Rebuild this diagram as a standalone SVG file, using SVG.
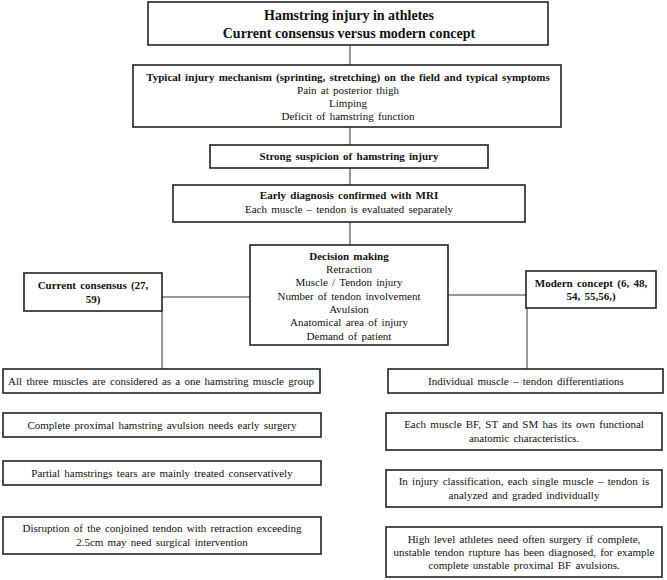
<svg xmlns="http://www.w3.org/2000/svg" width="667" height="580" viewBox="0 0 667 580">
<style>
.box{fill:#fff;stroke:#222;stroke-width:1.6}
.t{font-family:"Liberation Serif","Times New Roman",serif;font-size:11px;fill:#111;text-anchor:middle;word-spacing:1.5px}
.b{font-weight:bold}
.ttl{font-family:"Liberation Serif","Times New Roman",serif;font-size:14px;font-weight:bold;fill:#111;text-anchor:middle}
.ln{stroke:#333;stroke-width:1;fill:none}
</style>
<rect width="667" height="580" fill="#fff"/>
<g id="connectors">
<line class="ln" x1="350" y1="45" x2="350" y2="65"/>
<line class="ln" x1="350" y1="127" x2="350" y2="145"/>
<line class="ln" x1="350" y1="168" x2="350" y2="185"/>
<line class="ln" x1="350" y1="222" x2="350" y2="245"/>
<line class="ln" x1="162" y1="297" x2="250" y2="297"/>
<line class="ln" x1="448" y1="295" x2="526" y2="295"/>
<line class="ln" x1="162" y1="311" x2="162" y2="369"/>
<line class="ln" x1="527" y1="308" x2="527" y2="369"/>
</g>
<g id="title">
<rect class="box" x="148" y="2" width="400" height="43"/>
<text class="ttl" x="349" y="20">Hamstring injury in athletes</text>
<text class="ttl" x="349" y="38">Current consensus versus modern concept</text>
</g>
<g id="mechanism">
<rect class="box" x="133" y="65" width="428" height="62"/>
<text class="t b" x="348" y="81">Typical injury mechanism (sprinting, stretching)  on the field and typical symptoms</text>
<text class="t" x="348" y="94">Pain at posterior thigh</text>
<text class="t" x="348" y="107">Limping</text>
<text class="t" x="348" y="120">Deficit of hamstring function</text>
</g>
<g id="suspicion">
<rect class="box" x="210" y="145" width="278" height="23"/>
<text class="t b" x="349" y="160">Strong suspicion of hamstring injury</text>
</g>
<g id="diagnosis">
<rect class="box" x="173" y="185" width="352" height="37"/>
<text class="t b" x="349" y="199">Early diagnosis confirmed with MRI</text>
<text class="t" x="349" y="213">Each muscle – tendon is evaluated separately</text>
</g>
<g id="decision">
<rect class="box" x="250" y="245" width="198" height="100"/>
<text class="t b" x="349" y="260">Decision making</text>
<text class="t" x="349" y="273">Retraction</text>
<text class="t" x="349" y="286">Muscle / Tendon injury</text>
<text class="t" x="349" y="300">Number of tendon involvement</text>
<text class="t" x="349" y="313">Avulsion</text>
<text class="t" x="349" y="326">Anatomical area of injury</text>
<text class="t" x="349" y="340">Demand of patient</text>
</g>
<g id="current">
<rect class="box" x="24" y="273" width="138" height="38"/>
<text class="t b" x="93" y="289">Current consensus (27,</text>
<text class="t b" x="93" y="303">59)</text>
</g>
<g id="modern">
<rect class="box" x="526" y="271" width="130" height="37"/>
<text class="t b" x="591" y="287">Modern concept (6, 48,</text>
<text class="t b" x="591" y="300">54, 55,56,)</text>
</g>
<g id="left1">
<rect class="box" x="3" y="369" width="317" height="24"/>
<text class="t" x="161" y="385">All three muscles are considered as a one hamstring muscle group</text>
</g>
<g id="left2">
<rect class="box" x="3" y="413" width="318" height="24"/>
<text class="t" x="162" y="429">Complete proximal hamstring avulsion needs early surgery</text>
</g>
<g id="left3">
<rect class="box" x="3" y="461" width="318" height="24"/>
<text class="t" x="162" y="477">Partial hamstrings tears are mainly treated conservatively</text>
</g>
<g id="left4">
<rect class="box" x="3" y="517" width="318" height="37"/>
<text class="t" x="162" y="532">Disruption of the conjoined tendon with retraction exceeding</text>
<text class="t" x="162" y="546">2.5cm may need surgical intervention</text>
</g>
<g id="right1">
<rect class="box" x="388" y="369" width="275" height="24"/>
<text class="t" x="526" y="385">Individual muscle – tendon differentiations</text>
</g>
<g id="right2">
<rect class="box" x="386" y="413" width="276" height="37"/>
<text class="t" x="524" y="428">Each muscle BF, ST and SM has its own functional</text>
<text class="t" x="524" y="442">anatomic characteristics.</text>
</g>
<g id="right3">
<rect class="box" x="386" y="470" width="276" height="37"/>
<text class="t" x="524" y="485">In injury classification, each single muscle – tendon is</text>
<text class="t" x="524" y="499">analyzed and graded individually</text>
</g>
<g id="right4">
<rect class="box" x="386" y="527" width="276" height="50"/>
<text class="t" x="524" y="543">High level athletes need often surgery if complete,</text>
<text class="t" x="524" y="556">unstable tendon rupture has been diagnosed, for example</text>
<text class="t" x="524" y="569">complete unstable proximal BF avulsions.</text>
</g>
</svg>
